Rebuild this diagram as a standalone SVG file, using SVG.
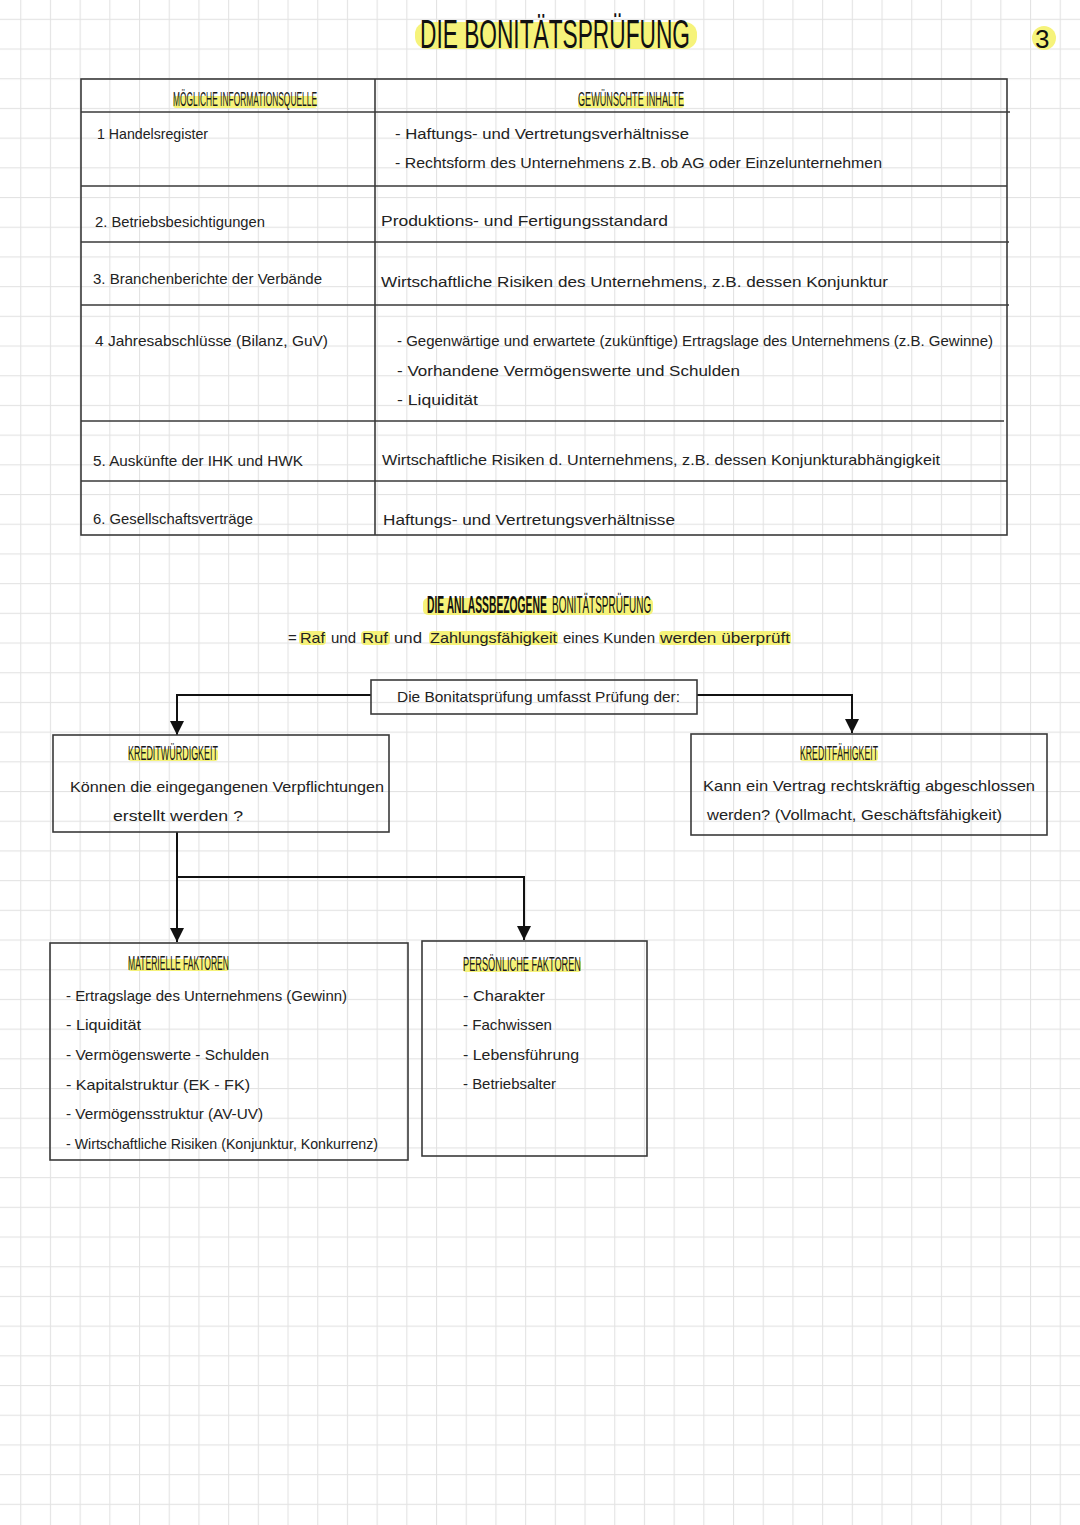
<svg xmlns="http://www.w3.org/2000/svg" width="1080" height="1525" viewBox="0 0 1080 1525">
  <defs>
    <pattern id="grid" patternUnits="userSpaceOnUse" x="20.2" y="18.8" width="29.7" height="29.7">
      <rect x="0" y="0" width="29.7" height="1.1" fill="#e3e3e3"/>
      <rect x="0" y="0" width="1.1" height="29.7" fill="#e3e3e3"/>
    </pattern>
    <marker id="arrow" markerUnits="userSpaceOnUse" markerWidth="14" markerHeight="16" refX="14" refY="7" orient="auto">
      <path d="M0,0 L14,7 L0,14 Z" fill="#111"/>
    </marker>
    <style>
      .t { font-family: "Liberation Sans", Arial, sans-serif; font-size: 15px; fill: #222; }
      .h { font-family: "Liberation Sans", Arial, sans-serif; font-size: 20px; fill: #1a1a1a; }
      .box { fill: none; stroke: #3a3a3a; stroke-width: 1.6; }
      .ln { fill: none; stroke: #3a3a3a; stroke-width: 1.6; }
      .conn { fill: none; stroke: #111; stroke-width: 2; }
      .hl { fill: #f4f163; opacity: 0.85; }
    </style>
  </defs>

  <rect x="0" y="0" width="1080" height="1525" fill="#ffffff"/>
  <rect x="0" y="0" width="1080" height="1525" fill="url(#grid)"/>

  <!-- Title -->
  <g id="title">
    <rect class="hl" x="415" y="22" width="282" height="27" rx="12"/>
    <text x="420" y="48" font-family="Liberation Sans, Arial, sans-serif" font-size="40" fill="#111" textLength="270" lengthAdjust="spacingAndGlyphs">DIE BONITÄTSPRÜFUNG</text>
  </g>
  <g id="page-number">
    <circle class="hl" cx="1044" cy="38" r="12"/>
    <text x="1035" y="48" font-family="Liberation Sans, Arial, sans-serif" font-size="26" fill="#111">3</text>
  </g>

  <!-- Table -->
  <g id="table">
    <rect class="box" x="81" y="79" width="926" height="456"/>
    <line class="ln" x1="375" y1="79" x2="375" y2="535"/>
    <line class="ln" x1="81" y1="112" x2="1010" y2="112"/>
    <line class="ln" x1="81" y1="186" x2="1007" y2="186"/>
    <line class="ln" x1="81" y1="242" x2="1009" y2="242"/>
    <line class="ln" x1="81" y1="305" x2="1009" y2="305"/>
    <line class="ln" x1="81" y1="421" x2="1004" y2="421"/>
    <line class="ln" x1="81" y1="481" x2="1007" y2="481"/>

    <rect class="hl" x="173" y="96" width="144" height="12" rx="3"/>
    <text class="h" x="173" y="106" textLength="144" lengthAdjust="spacingAndGlyphs">MÖGLICHE INFORMATIONSQUELLE</text>
    <rect class="hl" x="578" y="96" width="106" height="12" rx="3"/>
    <text class="h" x="578" y="106" textLength="106" lengthAdjust="spacingAndGlyphs">GEWÜNSCHTE INHALTE</text>

    <text class="t" x="97" y="139" textLength="111" lengthAdjust="spacingAndGlyphs">1 Handelsregister</text>
    <text class="t" x="395" y="139" textLength="294" lengthAdjust="spacingAndGlyphs">- Haftungs- und Vertretungsverhältnisse</text>
    <text class="t" x="395" y="168" textLength="487" lengthAdjust="spacingAndGlyphs">- Rechtsform des Unternehmens z.B. ob AG oder Einzelunternehmen</text>

    <text class="t" x="95" y="227" textLength="170" lengthAdjust="spacingAndGlyphs">2. Betriebsbesichtigungen</text>
    <text class="t" x="381" y="226" textLength="287" lengthAdjust="spacingAndGlyphs">Produktions- und Fertigungsstandard</text>

    <text class="t" x="93" y="284" textLength="229" lengthAdjust="spacingAndGlyphs">3. Branchenberichte der Verbände</text>
    <text class="t" x="381" y="287" textLength="507" lengthAdjust="spacingAndGlyphs">Wirtschaftliche Risiken des Unternehmens, z.B. dessen Konjunktur</text>

    <text class="t" x="95" y="346" textLength="233" lengthAdjust="spacingAndGlyphs">4 Jahresabschlüsse (Bilanz, GuV)</text>
    <text class="t" x="397" y="346" textLength="596" lengthAdjust="spacingAndGlyphs">- Gegenwärtige und erwartete (zukünftige) Ertragslage des Unternehmens (z.B. Gewinne)</text>
    <text class="t" x="397" y="376" textLength="343" lengthAdjust="spacingAndGlyphs">- Vorhandene Vermögenswerte und Schulden</text>
    <text class="t" x="397" y="405" textLength="81" lengthAdjust="spacingAndGlyphs">- Liquidität</text>

    <text class="t" x="93" y="466" textLength="210" lengthAdjust="spacingAndGlyphs">5. Auskünfte der IHK und HWK</text>
    <text class="t" x="382" y="465" textLength="558" lengthAdjust="spacingAndGlyphs">Wirtschaftliche Risiken d. Unternehmens, z.B. dessen Konjunkturabhängigkeit</text>

    <text class="t" x="93" y="524" textLength="160" lengthAdjust="spacingAndGlyphs">6. Gesellschaftsverträge</text>
    <text class="t" x="383" y="525" textLength="292" lengthAdjust="spacingAndGlyphs">Haftungs- und Vertretungsverhältnisse</text>
  </g>

  <!-- Section heading -->
  <g id="section-heading">
    <rect class="hl" x="423" y="598" width="230" height="17" rx="5"/>
    <text transform="translate(427,613) scale(0.447,1)" x="0" y="0" font-family="Liberation Sans, Arial, sans-serif" font-size="23" font-weight="bold" fill="#111" textLength="268" lengthAdjust="spacingAndGlyphs">DIE ANLASSBEZOGENE</text>
    <text transform="translate(552,613) scale(0.433,1)" x="0" y="0" font-family="Liberation Sans, Arial, sans-serif" font-size="23" fill="#111" textLength="229" lengthAdjust="spacingAndGlyphs">BONITÄTSPRÜFUNG</text>
  </g>
  <g id="definition">
    <rect class="hl" x="299" y="631" width="27" height="14" rx="4"/>
    <rect class="hl" x="361" y="631" width="29" height="14" rx="4"/>
    <rect class="hl" x="429" y="631" width="129" height="14" rx="4"/>
    <rect class="hl" x="659" y="631" width="132" height="14" rx="4"/>
    <text class="t" y="643">
      <tspan x="288">=</tspan>
      <tspan x="300" textLength="25" lengthAdjust="spacingAndGlyphs">Raf</tspan>
      <tspan x="331" textLength="25" lengthAdjust="spacingAndGlyphs">und</tspan>
      <tspan x="362" textLength="26" lengthAdjust="spacingAndGlyphs">Ruf</tspan>
      <tspan x="394" textLength="28" lengthAdjust="spacingAndGlyphs">und</tspan>
      <tspan x="430" textLength="127" lengthAdjust="spacingAndGlyphs">Zahlungsfähigkeit</tspan>
      <tspan x="563" textLength="92" lengthAdjust="spacingAndGlyphs">eines Kunden</tspan>
      <tspan x="660" textLength="130" lengthAdjust="spacingAndGlyphs">werden überprüft</tspan>
    </text>
  </g>

  <!-- Connectors -->
  <g id="connectors">
    <path class="conn" d="M371,695 H177 V735" marker-end="url(#arrow)"/>
    <path class="conn" d="M697,695 H852 V733" marker-end="url(#arrow)"/>
    <path class="conn" d="M177,832 V942" marker-end="url(#arrow)"/>
    <path class="conn" d="M177,877 H524 V940" marker-end="url(#arrow)"/>
  </g>

  <!-- Nodes -->
  <g id="node-umfasst">
    <rect class="box" x="371" y="680" width="326" height="34" fill="#fff"/>
    <text class="t" x="397" y="702" textLength="283" lengthAdjust="spacingAndGlyphs">Die Bonitatsprüfung umfasst Prüfung der:</text>
  </g>

  <g id="node-kreditwuerdigkeit">
    <rect class="box" x="53" y="735" width="336" height="97"/>
    <rect class="hl" x="128" y="749" width="90" height="12" rx="3"/>
    <text class="h" x="128" y="760" font-size="19" textLength="90" lengthAdjust="spacingAndGlyphs">KREDITWÜRDIGKEIT</text>
    <text class="t" x="70" y="792" textLength="314" lengthAdjust="spacingAndGlyphs">Können die eingegangenen Verpflichtungen</text>
    <text class="t" x="113" y="821" textLength="130" lengthAdjust="spacingAndGlyphs">erstellt werden ?</text>
  </g>

  <g id="node-kreditfaehigkeit">
    <rect class="box" x="691" y="734" width="356" height="101"/>
    <rect class="hl" x="800" y="749" width="78" height="12" rx="3"/>
    <text class="h" x="800" y="760" font-size="19" textLength="78" lengthAdjust="spacingAndGlyphs">KREDITFÄHIGKEIT</text>
    <text class="t" x="703" y="791" textLength="332" lengthAdjust="spacingAndGlyphs">Kann ein Vertrag rechtskräftig abgeschlossen</text>
    <text class="t" x="707" y="820" textLength="295" lengthAdjust="spacingAndGlyphs">werden? (Vollmacht, Geschäftsfähigkeit)</text>
  </g>

  <g id="node-materielle">
    <rect class="box" x="50" y="943" width="358" height="217"/>
    <rect class="hl" x="128" y="959" width="101" height="12" rx="3"/>
    <text class="h" x="128" y="970" font-size="19" textLength="101" lengthAdjust="spacingAndGlyphs">MATERIELLE FAKTOREN</text>
    <text class="t" x="66" y="1001" textLength="281" lengthAdjust="spacingAndGlyphs">- Ertragslage des Unternehmens (Gewinn)</text>
    <text class="t" x="66" y="1030" textLength="75" lengthAdjust="spacingAndGlyphs">- Liquidität</text>
    <text class="t" x="66" y="1060" textLength="203" lengthAdjust="spacingAndGlyphs">- Vermögenswerte - Schulden</text>
    <text class="t" x="66" y="1090" textLength="184" lengthAdjust="spacingAndGlyphs">- Kapitalstruktur (EK - FK)</text>
    <text class="t" x="66" y="1119" textLength="197" lengthAdjust="spacingAndGlyphs">- Vermögensstruktur (AV-UV)</text>
    <text class="t" x="66" y="1149" textLength="312" lengthAdjust="spacingAndGlyphs">- Wirtschaftliche Risiken (Konjunktur, Konkurrenz)</text>
  </g>

  <g id="node-persoenliche">
    <rect class="box" x="422" y="941" width="225" height="215"/>
    <rect class="hl" x="463" y="960" width="118" height="12" rx="3"/>
    <text class="h" x="463" y="971" font-size="19" textLength="118" lengthAdjust="spacingAndGlyphs">PERSÖNLICHE FAKTOREN</text>
    <text class="t" x="463" y="1001" textLength="82" lengthAdjust="spacingAndGlyphs">- Charakter</text>
    <text class="t" x="463" y="1030" textLength="89" lengthAdjust="spacingAndGlyphs">- Fachwissen</text>
    <text class="t" x="463" y="1060" textLength="116" lengthAdjust="spacingAndGlyphs">- Lebensführung</text>
    <text class="t" x="463" y="1089" textLength="93" lengthAdjust="spacingAndGlyphs">- Betriebsalter</text>
  </g>
</svg>
